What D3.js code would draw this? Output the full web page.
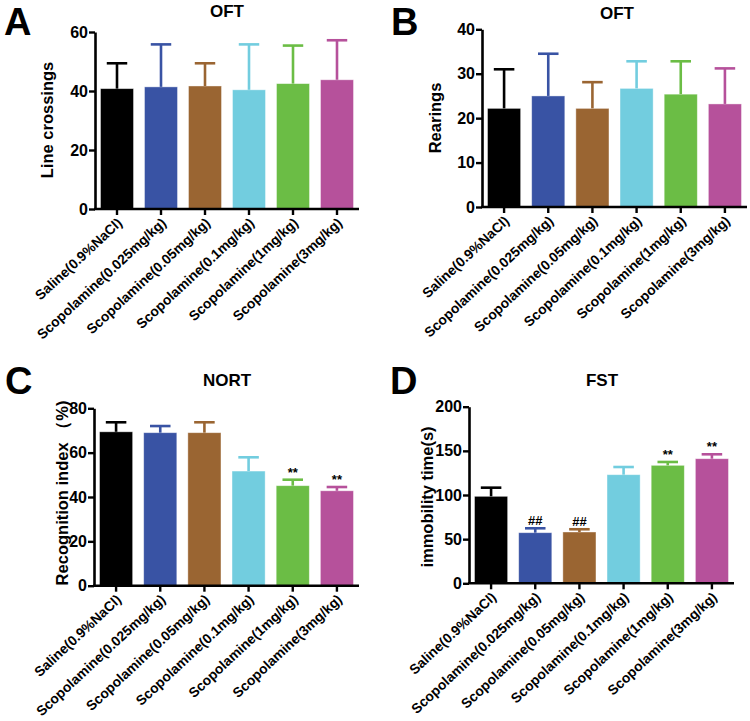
<!DOCTYPE html>
<html><head><meta charset="utf-8">
<script src="https://cdn.jsdelivr.net/npm/d3@7"></script>
<style>body{margin:0;background:#fff;} svg{display:block;font-family:"Liberation Sans",Arial,Helvetica,sans-serif;}</style>
</head><body><svg id="c" width="750" height="721"></svg>
<script>
const groups = ["Saline(0.9%NaCl)","Scopolamine(0.025mg/kg)","Scopolamine(0.05mg/kg)","Scopolamine(0.1mg/kg)","Scopolamine(1mg/kg)","Scopolamine(3mg/kg)"];
const colors = ["#000000","#3953a4","#9a6532","#72cddf","#6bbd45","#b6519b"];

const oftLineMean = [40.8,41.4,41.7,40.4,42.5,43.8];
const oftLineErr  = [8.6,14.4,7.7,15.4,12.9,13.4];
const oftRearMean = [22.2,25.0,22.2,26.7,25.4,23.2];
const oftRearErr  = [8.8,9.5,5.9,6.1,7.4,8.0];
const nortMean = [69.4,69.0,69.0,51.7,45.1,42.8];
const nortErr  = [4.3,3.0,4.7,6.2,2.7,1.7];
const fstMean = [98.5,57.3,58.1,123.0,133.6,141.1];
const fstErr  = [9.8,5.0,3.1,8.7,3.8,5.0];
const nortSig = ["","","","","**","**"];
const fstSig  = ["","##","##","","**","**"];

const ticksA = [0,20,40,60], ticksB = [0,10,20,30,40], ticksC = [0,20,40,60,80], ticksD = [0,50,100,150,200];

const panels = [
  {letter:"A", title:"OFT", ylabel:"Line crossings", mean:oftLineMean, err:oftLineErr, sig:null, ticks:ticksA,
   x0:95, x1:359, yb:209, yt:32, lx:4, ly:35, tx:227, ty:17, ylx:53, yly:120},
  {letter:"B", title:"OFT", ylabel:"Rearings", mean:oftRearMean, err:oftRearErr, sig:null, ticks:ticksB,
   x0:482, x1:747, yb:207, yt:29.3, lx:391, ly:35, tx:617, ty:19, ylx:441, yly:118},
  {letter:"C", title:"NORT", ylabel:"Recognition index （%)", mean:nortMean, err:nortErr, sig:nortSig, ticks:ticksC,
   x0:94, x1:359, yb:585.7, yt:408.3, lx:5, ly:394, tx:227, ty:386, ylx:68, yly:493},
  {letter:"D", title:"FST", ylabel:"immobility time(s)", mean:fstMean, err:fstErr, sig:fstSig, ticks:ticksD,
   x0:469, x1:734, yb:583.3, yt:406.7, lx:390, ly:394, tx:602, ty:386, ylx:433, yly:497}
];

const svg = d3.select("#c");

panels.forEach(p => {
  const g = svg.append("g");
  const x = d3.scaleBand().domain(groups).range([p.x0, p.x1]).paddingInner(0.25).paddingOuter(0.125);
  const ticks = p.ticks;
  const y = d3.scaleLinear().domain([ticks[0], ticks[ticks.length-1]]).range([p.yb, p.yt]);
  const bw = x.bandwidth();

  g.selectAll("rect.bar").data(groups).enter().append("rect")
    .attr("x", d => x(d)).attr("width", bw)
    .attr("y", (d,i) => y(p.mean[i])).attr("height", (d,i) => y(0) - y(p.mean[i]))
    .attr("fill", (d,i) => colors[i])
    .attr("stroke", "#fff").attr("stroke-opacity", 0.5).attr("stroke-width", 0.8);

  const capW = bw * 0.62;
  groups.forEach((d,i) => {
    const cx = x(d) + bw/2;
    const top = y(p.mean[i] + p.err[i]);
    g.append("line").attr("x1", cx).attr("x2", cx).attr("y1", y(p.mean[i])).attr("y2", top)
      .attr("stroke", colors[i]).attr("stroke-width", 2.6);
    g.append("line").attr("x1", cx - capW/2).attr("x2", cx + capW/2).attr("y1", top).attr("y2", top)
      .attr("stroke", colors[i]).attr("stroke-width", 2.6);
    if (p.sig && p.sig[i]) {
      g.append("text").attr("x", cx).attr("y", top - 3).attr("text-anchor", "middle")
        .attr("font-size", 13).attr("font-weight", "bold").attr("fill", "#000").text(p.sig[i]);
    }
  });

  const ya = g.append("g").attr("transform", `translate(${p.x0},0)`)
    .call(d3.axisLeft(y).tickValues(ticks).tickSize(6).tickSizeOuter(0).tickPadding(1));
  ya.select(".domain").attr("stroke-width", 2.6).attr("stroke", "#000");
  ya.selectAll(".tick line").attr("stroke-width", 2.4).attr("stroke", "#000");
  ya.selectAll(".tick text").attr("font-size", 16).attr("font-weight", "bold").attr("fill", "#000")
    .attr("font-family", "Liberation Sans, Arial, sans-serif");

  const xa = g.append("g").attr("transform", `translate(0,${p.yb})`)
    .call(d3.axisBottom(x).tickSize(6).tickSizeOuter(0).tickFormat(""));
  xa.select(".domain").attr("stroke-width", 2.6).attr("stroke", "#000")
    .attr("d", `M${p.x0 - 1},0H${p.x1}`);
  xa.selectAll(".tick line").attr("stroke-width", 2.4).attr("stroke", "#000");

  g.selectAll("text.xl").data(groups).enter().append("text")
    .attr("class", "xl")
    .attr("transform", d => `translate(${x(d) + bw/2 + 6},${p.yb + 15}) rotate(-43)`)
    .attr("text-anchor", "end").attr("font-size", 13.8).attr("font-weight", "bold").attr("fill", "#000")
    .text(d => d);

  g.append("text").attr("x", p.tx).attr("y", p.ty).attr("text-anchor", "middle")
    .attr("font-size", 17).attr("font-weight", "bold").text(p.title);
  g.append("text").attr("x", p.lx).attr("y", p.ly).attr("font-size", 38).attr("font-weight", "bold").text(p.letter);
  g.append("text").attr("transform", `translate(${p.ylx},${p.yly}) rotate(-90)`)
    .attr("text-anchor", "middle").attr("font-size", 16.5).attr("font-weight", "bold").text(p.ylabel);
});
</script></body></html>
